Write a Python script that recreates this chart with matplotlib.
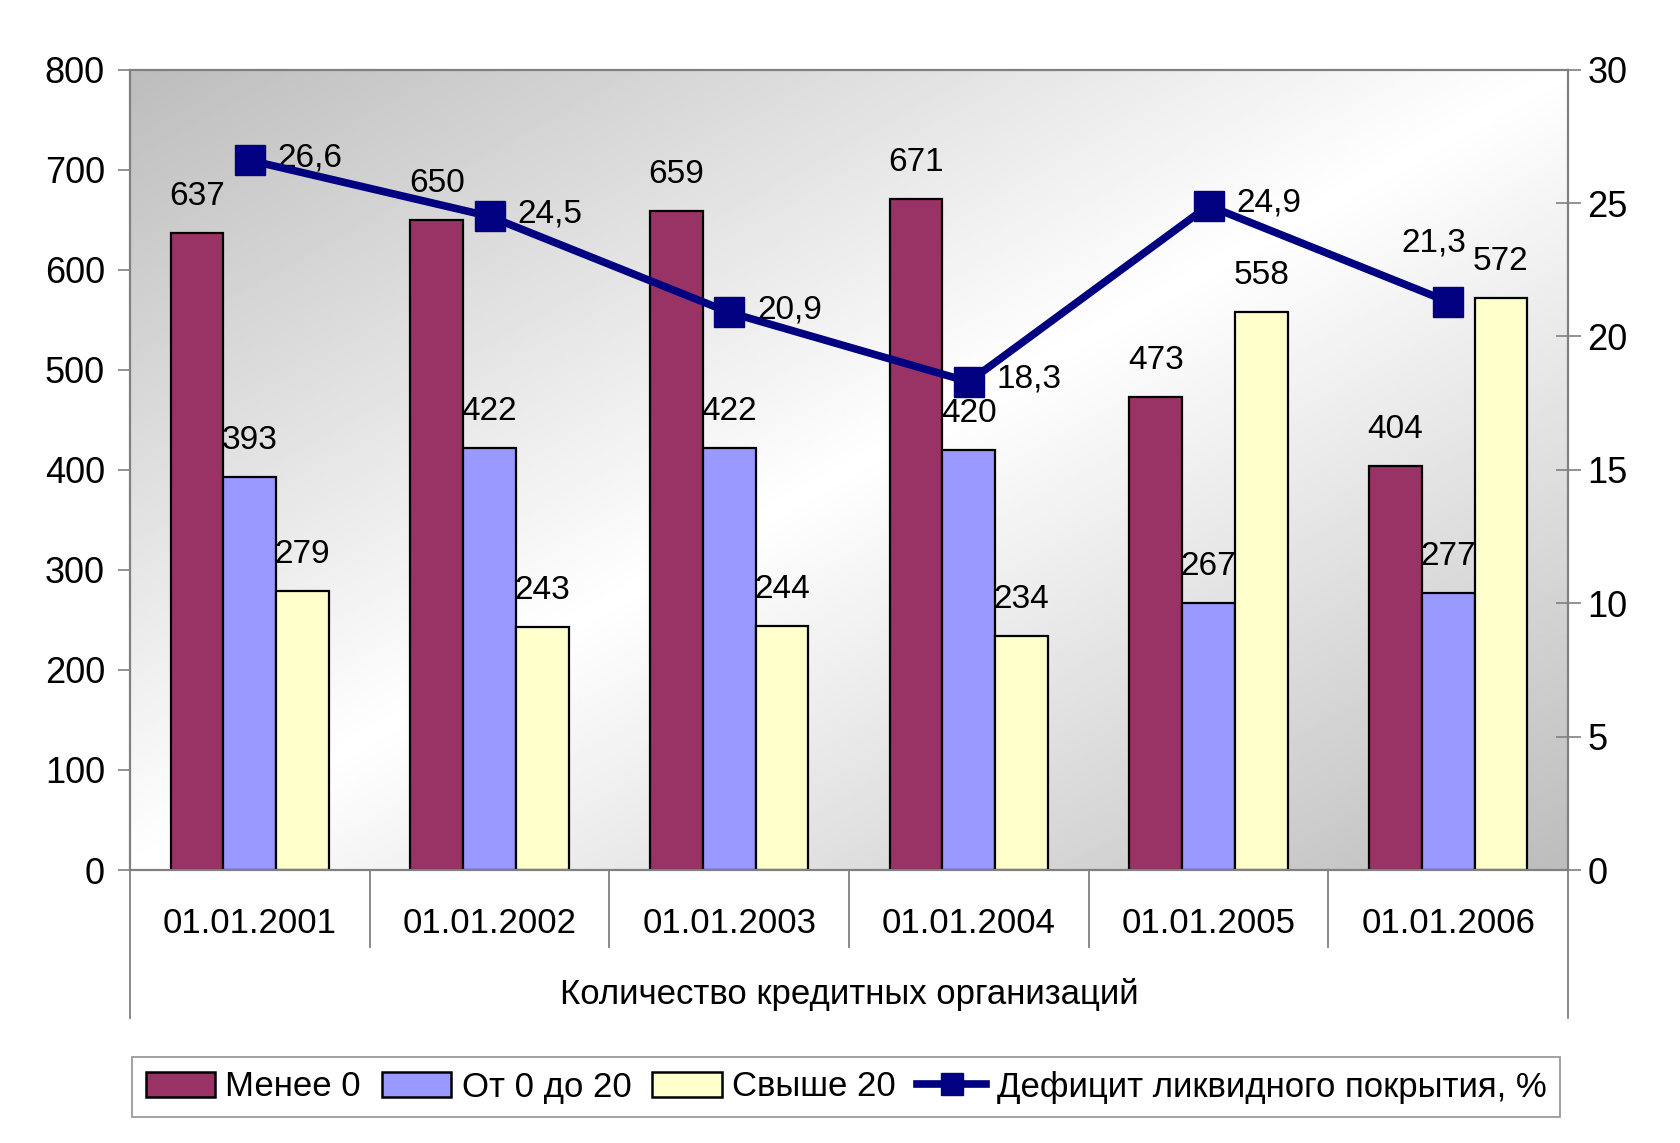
"""Количество кредитных организаций по дефициту ликвидного покрытия (столбцы + линия)."""
import matplotlib

matplotlib.use("Agg")
import matplotlib.pyplot as plt  # noqa: E402
import numpy as np  # noqa: E402
from matplotlib.lines import Line2D  # noqa: E402
from matplotlib.patches import Patch  # noqa: E402

dates = ["01.01.2001", "01.01.2002", "01.01.2003", "01.01.2004", "01.01.2005", "01.01.2006"]
less_0 = [637, 650, 659, 671, 473, 404]
from_0_to_20 = [393, 422, 422, 420, 267, 277]
over_20 = [279, 243, 244, 234, 558, 572]
deficit = [26.6, 24.5, 20.9, 18.3, 24.9, 21.3]

series_names = ["Менее 0", "От 0 до 20", "Свыше 20"]
line_name = "Дефицит ликвидного покрытия, %"
axis_title = "Количество кредитных организаций"

colors = ["#993366", "#9999FF", "#FFFFCC"]
navy = "#000080"
gray = "#808080"

plt.rcParams["font.family"] = ["Liberation Sans", "DejaVu Sans"]

fig = plt.figure(figsize=(16.8, 11.43), dpi=100)
ax = fig.add_axes([130 / 1680, 1 - 870 / 1143, (1568 - 130) / 1680, (870 - 69.6) / 1143])

# фон: диагональный градиент серый -> белый -> серый
gx, gy = np.meshgrid(np.linspace(0, 1, 400), np.linspace(0, 1, 300))
t = np.abs(gx + gy - 1.0)
ax.imshow(0.74 + 0.26 * (1 - t), cmap="gray", vmin=0, vmax=1, extent=(0, 1, 0, 1),
          transform=ax.transAxes, aspect="auto", zorder=0, interpolation="bilinear")

x = np.arange(len(dates))
w = 0.22
for i, (vals, c) in enumerate(zip([less_0, from_0_to_20, over_20], colors)):
    xs = x + (i - 1) * w
    ax.bar(xs, vals, width=w, color=c, edgecolor="black", linewidth=1.6, zorder=2)
    for xi, v in zip(xs, vals):
        ax.annotate(str(v), (xi, v), xytext=(0, 26), textcoords="offset points",
                    ha="center", va="center", fontsize=24, zorder=5)

ax.set_xlim(-0.5, len(dates) - 0.5)
ax.set_ylim(0, 800)
ax.set_yticks(range(0, 801, 100))
ax.tick_params(axis="y", direction="out", length=9, width=1.2, color=gray, labelsize=26, pad=9)
ax.set_xticks([])
for s in ["left", "top", "right", "bottom"]:
    ax.spines[s].set_color(gray)
    ax.spines[s].set_linewidth(1.6)

# многоуровневая ось категорий
trans = ax.get_xaxis_transform()
for b in np.arange(-0.5, len(dates), 1.0):
    bottom = -0.185 if b in (-0.5, len(dates) - 0.5) else -0.096
    ax.plot([b, b], [0, bottom], transform=trans, color=gray, lw=1.3, clip_on=False)
for xi, d in zip(x, dates):
    ax.text(xi, -0.067, d, transform=trans, ha="center", va="center", fontsize=25)
ax.text(0.5, -0.156, axis_title, transform=ax.transAxes, ha="center", va="center", fontsize=25)

ax2 = ax.twinx()
ax2.set_ylim(0, 30)
ax2.set_yticks(range(0, 31, 5))
ax2.tick_params(axis="y", direction="inout", length=18, width=1.2, color=gray, labelsize=26, pad=5)
for s in ["left", "top", "right", "bottom"]:
    ax2.spines[s].set_visible(False)
ax2.plot(x, deficit, color=navy, lw=5.5, marker="s", markersize=22, zorder=4)
for xi, v in zip(x, deficit):
    label = f"{v:.1f}".replace(".", ",")
    if xi == len(dates) - 1:
        ax2.annotate(label, (xi, v), xytext=(-10, 42), textcoords="offset points",
                     ha="center", va="center", fontsize=24)
    else:
        ax2.annotate(label, (xi, v), xytext=(20, 2), textcoords="offset points",
                     ha="left", va="center", fontsize=24)

handles = [Patch(facecolor=c, edgecolor="black", linewidth=1.8) for c in colors]
handles.append(Line2D([0], [0], color=navy, lw=5.5, marker="s", markersize=16))
leg = fig.legend(handles, series_names + [line_name], loc="center", ncol=4,
                 bbox_to_anchor=(846 / 1680, 1 - 1087 / 1143), fontsize=25,
                 frameon=True, fancybox=False, edgecolor=gray, handlelength=2.0,
                 handletextpad=0.3, columnspacing=0.6, borderpad=0.4)
leg.get_frame().set_linewidth(1.3)

fig.savefig("out.png", dpi=100)
